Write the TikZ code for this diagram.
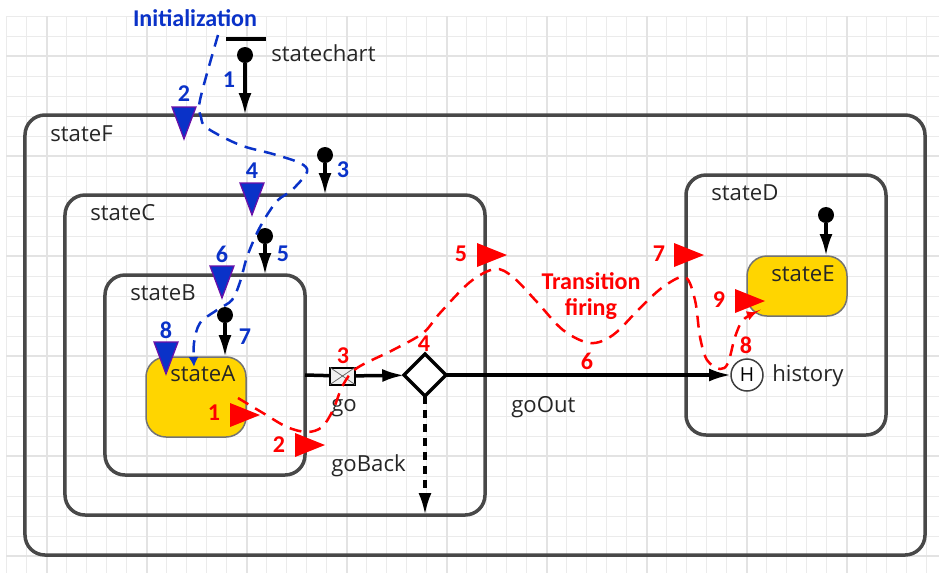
\documentclass[tikz,border=0pt]{standalone}
\usepackage{fontspec}
\setmainfont{Open Sans}
\newfontfamily\notefont{Carlito}
\usetikzlibrary{arrows.meta, shapes.geometric}
\definecolor{statered}{HTML}{FF0000}
\definecolor{stateblue}{HTML}{0A32C8}
\definecolor{statepurple}{HTML}{6A0FA8}
\definecolor{stategold}{HTML}{FFD500}
\definecolor{stateline}{HTML}{484848}
\tikzset{
  statebox/.style={draw=stateline, line width=0.7mm, rounded corners=4mm, inner sep=0, outer sep=0},
  leafbox/.style={draw=black!55, line width=0.3mm, fill=stategold, rounded corners=4mm, inner sep=0, outer sep=0},
  initdot/.style={circle, fill=black, inner sep=0, outer sep=0, minimum size=3.2mm},
  trans/.style={line width=0.7mm, -{Latex[length=4.4mm, width=2.6mm]}},
  statename/.style={anchor=west, inner sep=0, font=\fontsize{12.6}{14}\selectfont, text=black!85},
  rednum/.style={inner sep=0, text=statered, font=\notefont\bfseries\fontsize{13.7}{14.5}\selectfont},
  bluenum/.style={inner sep=0, text=stateblue, font=\notefont\bfseries\fontsize{13.7}{14.5}\selectfont},
  firepath/.style={draw=statered, line width=0.5mm, dash pattern=on 2.4mm off 1.6mm, -{Latex[length=2mm, width=2mm]}},
  initpath/.style={draw=stateblue, line width=0.5mm, dash pattern=on 2.4mm off 1.6mm, -{Latex[length=2mm, width=2mm]}}
}
\begin{document}
\begin{tikzpicture}[x=0.2mm, y=-0.2mm]
  \useasboundingbox (0, 0) rectangle (939, 573);
  % grid
  \foreach \x in {6, 26, ..., 926} {
    \draw[black!8, line width=0.2mm] (\x, 16) -- (\x, 573);
  }
  \foreach \y in {16, 36, ..., 556} {
    \draw[black!8, line width=0.2mm] (6, \y) -- (939, \y);
  }
  \foreach \x in {47, 147, ..., 947} {
    \draw[black!11, line width=0.35mm] (\x, 16) -- (\x, 573);
  }
  \foreach \y in {56, 156, ..., 556} {
    \draw[black!11, line width=0.35mm] (6, \y) -- (939, \y);
  }
  % states
  \node[statebox, minimum width=180mm, minimum height=88mm] (stateF) at (475, 335) {};
  \node[statebox, minimum width=84mm, minimum height=64mm] (stateC) at (275, 355) {};
  \node[statebox, minimum width=40mm, minimum height=40mm] (stateB) at (205, 375) {};
  \node[statebox, minimum width=40mm, minimum height=52mm] (stateD) at (786, 305) {};
  \node[leafbox, minimum width=20mm, minimum height=16mm] (stateA) at (196, 397) {};
  \node[leafbox, minimum width=20mm, minimum height=12mm] (stateE) at (797, 286) {};
  \foreach \name/\x/\y/\txt in {lblChart/271/53/statechart, lblF/50/134/stateF, lblC/90/213/stateC,
      lblB/130/293/stateB, lblA/170/374/stateA, lblD/711/193/stateD, lblE/771/274/stateE,
      lblHistory/772/376/history, lblGo/331/408/go, lblGoBack/331/466/goBack, lblGoOut/511/407/goOut} {
    \node[statename] (\name) at (\x, \y) {\txt};
  }
  % top bar and initial points
  \node[minimum width=8mm, minimum height=0.8mm, inner sep=0, fill=black] (topbar) at (245.5, 39) {};
  \node[initdot] (initF) at (245, 55) {};
  \node[initdot] (initC) at (325, 155) {};
  \node[initdot] (initB) at (265, 236) {};
  \node[initdot] (initA) at (225, 315) {};
  \node[initdot] (initE) at (826, 215) {};
  \draw[trans] (initF) -- (initF |- stateF.north);
  \draw[trans] (initC) -- (initC |- stateC.north);
  \draw[trans] (initB) -- (initB |- stateB.north);
  \draw[trans] (initA) -- (initA |- stateA.north);
  \draw[trans] (initE) -- (initE |- stateE.north);
  % transitions
  \node[diamond, draw=black, fill=white, line width=0.7mm, inner sep=0, outer sep=0, minimum size=8.4mm] (choice) at (425, 375) {};
  \node[circle, draw=black!75, fill=white, line width=0.3mm, inner sep=0, outer sep=0, minimum size=6.4mm, font=\fontsize{11}{12}\selectfont] (history) at (747, 375) {H};
  \node[draw=black, fill=black!6, line width=0.4mm, inner sep=0, outer sep=0, minimum width=5mm, minimum height=3.4mm] (envelope) at (342.5, 376) {};
  \draw[black!60, line width=0.15mm] (envelope.north west) -- (envelope.center) -- (envelope.north east);
  \draw[black!60, line width=0.15mm] (envelope.south west) -- (envelope.center) -- (envelope.south east);
  \draw[line width=0.7mm] (stateB.east |- choice) -- (envelope);
  \draw[trans] (envelope) -- (choice);
  \draw[trans] (choice) -- (history);
  \draw[trans, dash pattern=on 1.6mm off 1.2mm] (choice) -- (choice |- stateC.south);
  % firing path
  \coordinate (fireStart) at (238, 398);
  \coordinate (fireEnd) at (757, 312);
  \draw[firepath] plot[smooth, tension=0.55] coordinates {(fireStart) (263, 413) (287, 427) (307, 432) (322, 427) (333, 410)
    (343, 385) (357, 368) (393, 350) (423, 333) (440, 313) (470, 282) (495, 269) (513, 277) (537, 302) (563, 330)
    (590, 343) (613, 335) (640, 308) (663, 287) (685, 277) (695, 300) (700, 337) (707, 360) (720, 369) (728, 363)
    (735, 337) (743, 320) (fireEnd)};
  % init path
  \coordinate (initStart) at (218, 35);
  \coordinate (initEnd) at (194, 367);
  \draw[initpath] plot[smooth, tension=0.55] coordinates {(initStart) (200, 100) (201, 117) (207, 128) (240, 145) (273, 154)
    (300, 163) (307, 172) (292, 190) (278, 200) (267, 215) (257, 233) (247, 257) (240, 282) (232, 300)
    (217, 310) (200, 323) (194, 343) (initEnd)};
  % markers
  \foreach \x/\y in {230/415, 295/445, 477/255, 674/255, 735/301} {
    \fill[statered] (\x, \y) -- ++(0, -12) -- ++(30, 12) -- ++(-30, 12) -- cycle;
  }
  \foreach \x/\y in {184/107, 252/183, 222/266, 166/342} {
    \filldraw[fill=stateblue, draw=statepurple, line width=0.25mm] (\x, \y) -- ++(12, 0) -- ++(-12, 32) -- ++(-12, -32) -- cycle;
  }
  \foreach \x/\y [count=\i] in {214/413, 279/445, 343/356, 424/344, 461/254, 587/361, 659/254, 746/345, 719/300} {
    \node[rednum] (red\i) at (\x, \y) {\i};
  }
  \foreach \x/\y [count=\i] in {229/80, 184/94, 343/170, 252/171, 283/254, 222/254, 245/337, 166/330} {
    \node[bluenum] (blue\i) at (\x, \y) {\i};
  }
  \node[bluenum] (initText) at (195, 18) {Initialization};
  \node[rednum, align=center] (fireText) at (591, 296) {Transition\\firing};
\end{tikzpicture}
\end{document}
